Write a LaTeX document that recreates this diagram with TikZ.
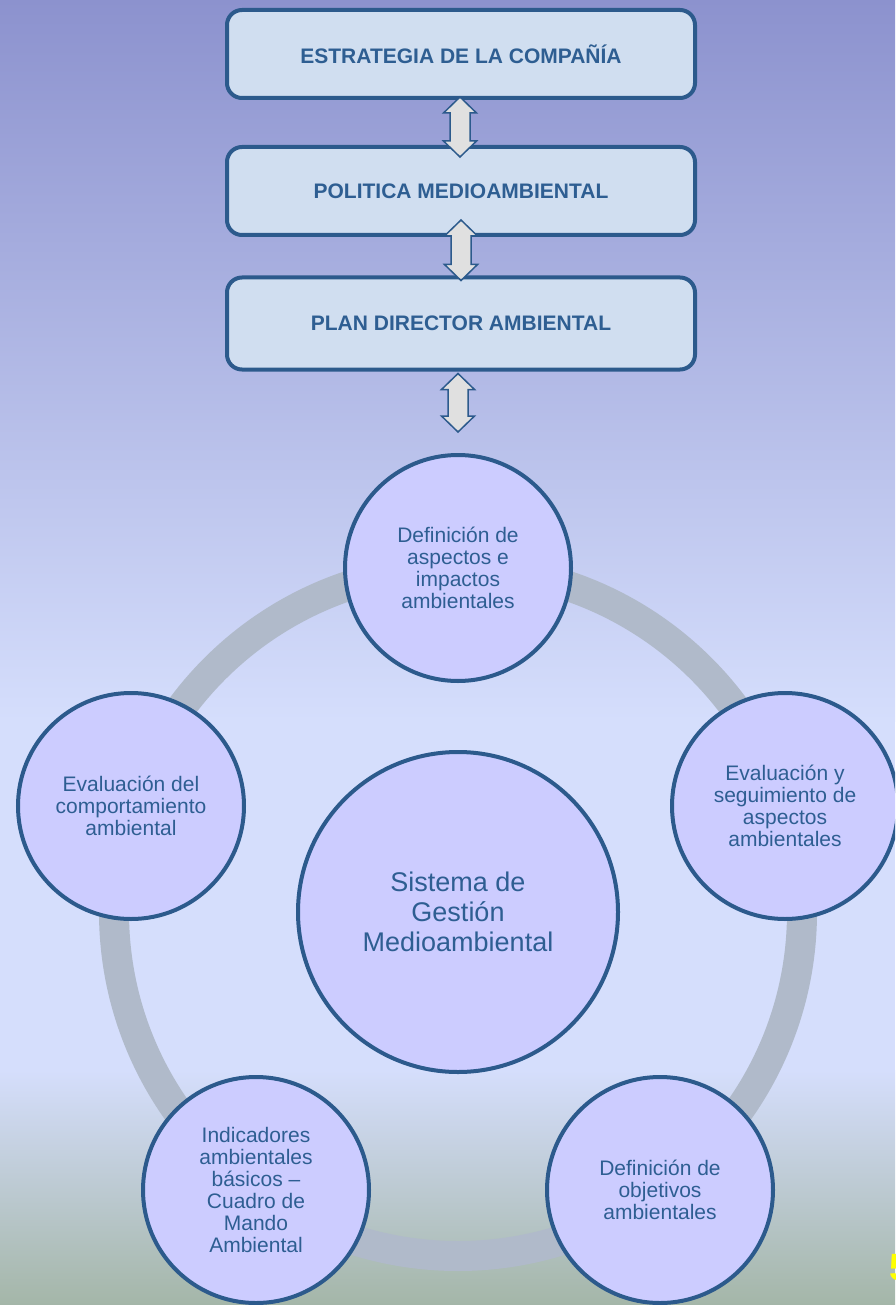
\documentclass[tikz,border=0pt]{standalone}
\usepackage{fontspec}
\setmainfont{Liberation Sans}
\usetikzlibrary{calc}
\definecolor{bgtop}{RGB}{140,146,206}
\definecolor{bgmid}{RGB}{213,222,252}
\definecolor{bgbot}{RGB}{164,182,168}
\definecolor{bordblue}{RGB}{44,90,140}
\definecolor{textblue}{RGB}{46,94,146}
\definecolor{boxfill}{RGB}{208,222,240}
\definecolor{circfill}{RGB}{204,204,255}
\definecolor{ringgray}{RGB}{176,186,202}
\definecolor{arrfill}{RGB}{224,224,224}
\definecolor{pageyellow}{RGB}{255,255,0}
\tikzset{
  box/.style={rectangle, rounded corners=15pt, draw=bordblue, line width=4pt, fill=boxfill,
    minimum width=468pt, minimum height=88pt, inner sep=0pt, text=textblue,
    font=\bfseries\fontsize{21}{24}\selectfont},
  circ/.style={circle, draw=bordblue, line width=4pt, fill=circfill, minimum size=226pt,
    inner sep=0pt, align=center, text=textblue, font=\fontsize{21}{22}\selectfont},
  ring/.style={draw=ringgray, line width=30pt},
  dblarr/.style={draw=bordblue, line width=1.5pt, fill=arrfill, line join=miter},
  pagenum/.style={font=\bfseries\fontsize{38}{40}\selectfont, text=pageyellow, anchor=south west, inner sep=0pt}
}
\newcommand\dblarrow[2]{\draw[dblarr] let \p1=#1, \p2=#2 in
  (\x1,\y1) -- ++(16.5pt,-16pt) -- ++(-6.5pt,0pt) -- (\x1+10pt,\y2+16pt) -- ++(6.5pt,0pt)
  -- (\x1,\y2) -- ++(-16.5pt,16pt) -- ++(6.5pt,0pt) -- (\x1-10pt,\y1-16pt) -- ++(-6.5pt,0pt) -- cycle;}
\begin{document}
\begin{tikzpicture}[x=1pt,y=-1pt]
\useasboundingbox (0,0) rectangle (895,1305);
\clip (0,0) rectangle (895,1305);
% background
\shade[top color=bgtop, bottom color=bgmid] (0,0) rectangle (895,721);
\fill[bgmid] (0,720) rectangle (895,1071);
\shade[top color=bgmid, bottom color=bgbot] (0,1070) rectangle (895,1305);
% ring
\coordinate (ctr) at (458,912);
\draw[ring] (ctr) circle[radius=344];
% centre
\node[circ, minimum size=320pt, font=\fontsize{27}{30}\selectfont] (cc) at (ctr) {Sistema de\\Gestión\\Medioambiental};
% outer circles
\node[circ] (c1) at (458,568) {Definición de\\aspectos e\\impactos\\ambientales};
\node[circ] (c2) at (785,806) {Evaluación y\\seguimiento de\\aspectos\\ambientales};
\node[circ] (c3) at (660,1190) {Definición de\\objetivos\\ambientales};
\node[circ] (c4) at (256,1190) {Indicadores\\ambientales\\básicos –\\Cuadro de\\Mando\\Ambiental};
\node[circ] (c5) at (131,806) {Evaluación del\\comportamiento\\ambiental};
% boxes
\node[box] (b1) at (461,54) {ESTRATEGIA DE LA COMPAÑÍA};
\node[box] (b2) at (461,191) {POLITICA MEDIOAMBIENTAL};
\node[box, minimum height=92pt] (b3) at (461,323.5) {PLAN DIRECTOR AMBIENTAL};
% arrows
\dblarrow{($(b1.south)+(-1,-3)$)}{($(b2.north)+(-1,12)$)}
\dblarrow{($(b2.south)+(0,-17)$)}{($(b3.north)+(0,5)$)}
\dblarrow{($(b3.south)+(-3,2)$)}{($(c1.north)+(0,-21)$)}
% page number
\node[pagenum] (pg) at (889,1281) {5};
\end{tikzpicture}
\end{document}
